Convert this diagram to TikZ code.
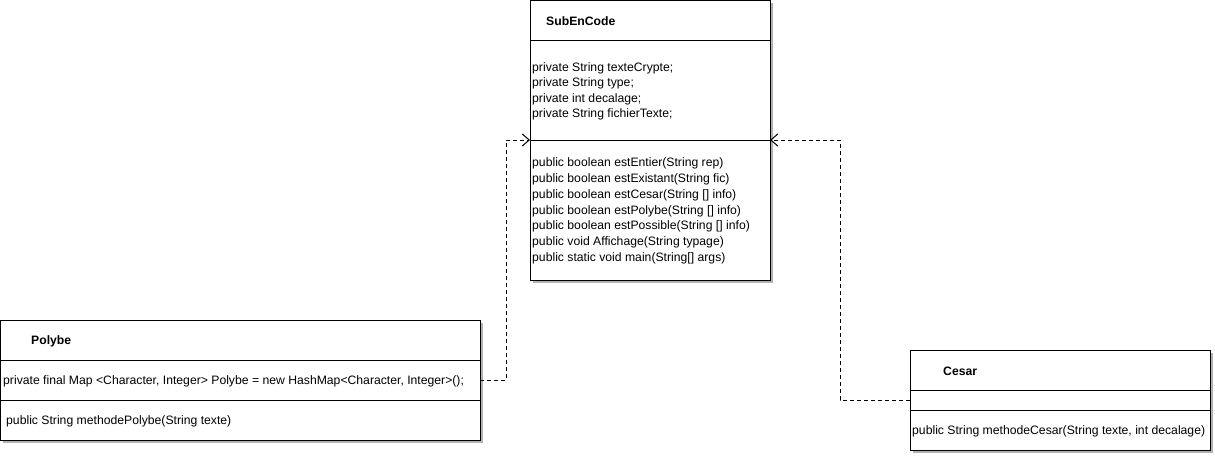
\documentclass[tikz,border=0pt]{standalone}
\usepackage{fontspec}
\setmainfont{Liberation Sans}
\usetikzlibrary{arrows.meta}
\begin{document}
\begin{tikzpicture}[x=1pt,y=-1pt,
  comp/.style={draw=black, line width=1pt, fill=white, anchor=north west, inner sep=0pt, outer sep=0pt},
  shadowbox/.style={fill=black!30, draw=none},
  txt/.style={anchor=west, inner sep=0pt, font=\fontsize{12.2}{14}\selectfont},
  ttl/.style={anchor=west, inner sep=0pt, font=\fontsize{12.2}{14}\selectfont\bfseries},
  dep/.style={draw=black, line width=0.8pt, dash pattern=on 4pt off 3pt, -{Straight Barb[length=7pt,width=12pt,line width=1pt]}}
]
\useasboundingbox (0,0) rectangle (1215,455);
% shadows
\fill[shadowbox] (533,3) rectangle (773,283);
\fill[shadowbox] (3,323) rectangle (483,443);
\fill[shadowbox] (913,353) rectangle (1213,453);
% SubEnCode
\node[comp, minimum width=240pt, minimum height=40pt] (sh) at (530,0) {};
\node[comp, minimum width=240pt, minimum height=100pt] (sa) at (530,40) {};
\node[comp, minimum width=240pt, minimum height=140pt] (sm) at (530,140) {};
\node[ttl] (st) at (546,21) {SubEnCode};
\node[txt] (a1) at (532,68) {private String texteCrypte;};
\node[txt] (a2) at (532,83.5) {private String type;};
\node[txt] (a3) at (532,99) {private int decalage;};
\node[txt] (a4) at (532,114.5) {private String fichierTexte;};
\node[txt] (m1) at (532,163.5) {public boolean estEntier(String rep)};
\node[txt] (m2) at (532,179.3) {public boolean estExistant(String fic)};
\node[txt] (m3) at (532,195.1) {public boolean estCesar(String [] info)};
\node[txt] (m4) at (532,210.9) {public boolean estPolybe(String [] info)};
\node[txt] (m5) at (532,226.7) {public boolean estPossible(String [] info)};
\node[txt] (m6) at (532,242.5) {public void Affichage(String typage)};
\node[txt] (m7) at (532,258.3) {public static void main(String[] args)};
% Polybe
\node[comp, minimum width=480pt, minimum height=40pt] (ph) at (0,320) {};
\node[comp, minimum width=480pt, minimum height=40pt] (pa) at (0,360) {};
\node[comp, minimum width=480pt, minimum height=40pt] (pm) at (0,400) {};
\node[ttl] (pt) at (31,341) {Polybe};
\node[txt] (pa1) at (3,381) {private final Map <Character, Integer> Polybe = new HashMap<Character, Integer>();};
\node[txt] (pm1) at (6,421) {public String methodePolybe(String texte)};
% Cesar
\node[comp, minimum width=300pt, minimum height=40pt] (ch) at (910,350) {};
\node[comp, minimum width=300pt, minimum height=20pt] (ca) at (910,390) {};
\node[comp, minimum width=300pt, minimum height=40pt] (cm) at (910,410) {};
\node[ttl] (ct) at (943,371) {Cesar};
\node[txt] (cm1) at (912,431) {public String methodeCesar(String texte, int decalage)};
% dependencies
\draw[dep] (pa.east) -- ++(26,0) |- (sm.north west);
\draw[dep] (ca.west) -- ++(-70,0) |- (sm.north east);
\end{tikzpicture}
\end{document}
